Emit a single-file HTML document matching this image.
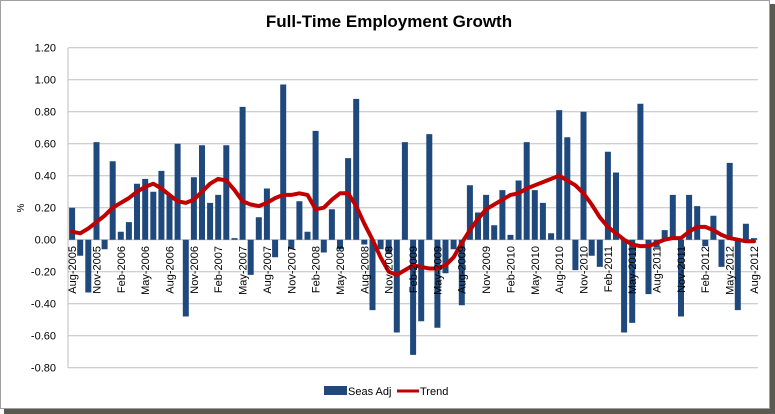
<!DOCTYPE html>
<html><head><meta charset="utf-8"><style>
html,body{margin:0;padding:0;background:#fff;}
svg{display:block;font-family:"Liberation Sans",sans-serif;}
</style></head><body>
<svg width="775" height="414" viewBox="0 0 775 414" xmlns="http://www.w3.org/2000/svg">
<rect x="770" y="4" width="5" height="410" fill="#5a5a50"/>
<rect x="4" y="409" width="771" height="5" fill="#5a5a50"/>
<rect x="0.5" y="0.5" width="769" height="408" fill="#fff" stroke="#a0a0a0"/>
<text x="389" y="27" font-size="17" font-weight="bold" text-anchor="middle" fill="#000">Full-Time Employment Growth</text>
<g stroke="#bfbfbf" stroke-width="1">
<line x1="68" x2="758" y1="47.7" y2="47.7"/>
<line x1="68" x2="758" y1="79.7" y2="79.7"/>
<line x1="68" x2="758" y1="111.7" y2="111.7"/>
<line x1="68" x2="758" y1="143.7" y2="143.7"/>
<line x1="68" x2="758" y1="175.7" y2="175.7"/>
<line x1="68" x2="758" y1="207.7" y2="207.7"/>
<line x1="68" x2="758" y1="239.7" y2="239.7"/>
<line x1="68" x2="758" y1="271.7" y2="271.7"/>
<line x1="68" x2="758" y1="303.7" y2="303.7"/>
<line x1="68" x2="758" y1="335.7" y2="335.7"/>
<line x1="68" x2="758" y1="367.7" y2="367.7"/>
<line x1="68" x2="68" y1="47.7" y2="367.7"/>
</g>
<g font-size="11" text-anchor="end" fill="#000">
<text x="56" y="51.5">1.20</text>
<text x="56" y="83.5">1.00</text>
<text x="56" y="115.5">0.80</text>
<text x="56" y="147.5">0.60</text>
<text x="56" y="179.5">0.40</text>
<text x="56" y="211.5">0.20</text>
<text x="56" y="243.5">0.00</text>
<text x="56" y="275.5">-0.20</text>
<text x="56" y="307.5">-0.40</text>
<text x="56" y="339.5">-0.60</text>
<text x="56" y="371.5">-0.80</text>
</g>
<text transform="translate(24,208) rotate(-90)" font-size="10" text-anchor="middle">%</text>
<g transform="translate(0,239.7) scale(1,-160)" fill="#1f497d">
<path d="M69.1 0h6V0.20H69.1Z M77.2 0h6V-0.10H77.2Z M85.3 0h6V-0.33H85.3Z M93.5 0h6V0.61H93.5Z M101.6 0h6V-0.06H101.6Z M109.7 0h6V0.49H109.7Z M117.8 0h6V0.05H117.8Z M125.9 0h6V0.11H125.9Z M134.0 0h6V0.35H134.0Z M142.2 0h6V0.38H142.2Z M150.3 0h6V0.30H150.3Z M158.4 0h6V0.43H158.4Z M166.5 0h6V0.28H166.5Z M174.6 0h6V0.60H174.6Z M182.8 0h6V-0.48H182.8Z M190.9 0h6V0.39H190.9Z M199.0 0h6V0.59H199.0Z M207.1 0h6V0.23H207.1Z M215.2 0h6V0.28H215.2Z M223.3 0h6V0.59H223.3Z M231.5 0h6V0.01H231.5Z M239.6 0h6V0.83H239.6Z M247.7 0h6V-0.22H247.7Z M255.8 0h6V0.14H255.8Z M263.9 0h6V0.32H263.9Z M272.1 0h6V-0.11H272.1Z M280.2 0h6V0.97H280.2Z M288.3 0h6V-0.06H288.3Z M296.4 0h6V0.24H296.4Z M304.5 0h6V0.05H304.5Z M312.6 0h6V0.68H312.6Z M320.8 0h6V-0.08H320.8Z M328.9 0h6V0.19H328.9Z M337.0 0h6V-0.06H337.0Z M345.1 0h6V0.51H345.1Z M353.2 0h6V0.88H353.2Z M361.3 0h6V-0.03H361.3Z M369.5 0h6V-0.44H369.5Z M377.6 0h6V-0.06H377.6Z M385.7 0h6V-0.09H385.7Z M393.8 0h6V-0.58H393.8Z M401.9 0h6V0.61H401.9Z M410.1 0h6V-0.72H410.1Z M418.2 0h6V-0.51H418.2Z M426.3 0h6V0.66H426.3Z M434.4 0h6V-0.55H434.4Z M442.5 0h6V-0.21H442.5Z M450.6 0h6V-0.06H450.6Z M458.8 0h6V-0.41H458.8Z M466.9 0h6V0.34H466.9Z M475.0 0h6V0.17H475.0Z M483.1 0h6V0.28H483.1Z M491.2 0h6V0.09H491.2Z M499.4 0h6V0.31H499.4Z M507.5 0h6V0.03H507.5Z M515.6 0h6V0.37H515.6Z M523.7 0h6V0.61H523.7Z M531.8 0h6V0.31H531.8Z M539.9 0h6V0.23H539.9Z M548.1 0h6V0.04H548.1Z M556.2 0h6V0.81H556.2Z M564.3 0h6V0.64H564.3Z M572.4 0h6V-0.19H572.4Z M580.5 0h6V0.80H580.5Z M588.7 0h6V-0.10H588.7Z M596.8 0h6V-0.17H596.8Z M604.9 0h6V0.55H604.9Z M613.0 0h6V0.42H613.0Z M621.1 0h6V-0.58H621.1Z M629.2 0h6V-0.52H629.2Z M637.4 0h6V0.85H637.4Z M645.5 0h6V-0.34H645.5Z M653.6 0h6V-0.05H653.6Z M661.7 0h6V0.06H661.7Z M669.8 0h6V0.28H669.8Z M678.0 0h6V-0.48H678.0Z M686.1 0h6V0.28H686.1Z M694.2 0h6V0.21H694.2Z M702.3 0h6V-0.04H702.3Z M710.4 0h6V0.15H710.4Z M718.5 0h6V-0.17H718.5Z M726.7 0h6V0.48H726.7Z M734.8 0h6V-0.44H734.8Z M742.9 0h6V0.10H742.9Z M751.0 0h6V0.01H751.0Z"/>
<polyline fill="none" stroke="#c00000" stroke-width="4" vector-effect="non-scaling-stroke" stroke-linejoin="round" stroke-linecap="round" points="72.1,0.05 80.2,0.04 88.3,0.07 96.5,0.11 104.6,0.15 112.7,0.20 120.8,0.23 128.9,0.26 137.0,0.30 145.2,0.33 153.3,0.35 161.4,0.32 169.5,0.28 177.6,0.24 185.8,0.23 193.9,0.25 202.0,0.30 210.1,0.35 218.2,0.38 226.3,0.37 234.5,0.31 242.6,0.24 250.7,0.22 258.8,0.21 266.9,0.23 275.1,0.26 283.2,0.28 291.3,0.28 299.4,0.29 307.5,0.28 315.6,0.19 323.8,0.20 331.9,0.25 340.0,0.29 348.1,0.29 356.2,0.21 364.3,0.10 372.5,0.0 380.6,-0.11 388.7,-0.20 396.8,-0.22 404.9,-0.19 413.1,-0.16 421.2,-0.17 429.3,-0.18 437.4,-0.18 445.5,-0.16 453.6,-0.11 461.8,-0.02 469.9,0.06 478.0,0.13 486.1,0.19 494.2,0.22 502.4,0.25 510.5,0.28 518.6,0.29 526.7,0.32 534.8,0.34 542.9,0.36 551.1,0.38 559.2,0.40 567.3,0.37 575.4,0.34 583.5,0.29 591.7,0.22 599.8,0.14 607.9,0.08 616.0,0.04 624.1,0.0 632.2,-0.03 640.4,-0.04 648.5,-0.04 656.6,-0.02 664.7,0.0 672.8,0.01 681.0,0.01 689.1,0.05 697.2,0.08 705.3,0.08 713.4,0.06 721.5,0.03 729.7,0.01 737.8,0.0 745.9,-0.01 754.0,-0.01"/>
</g>
<g font-size="11" text-anchor="end" fill="#000">
<text transform="translate(76,246) rotate(-90)">Aug-2005</text>
<text transform="translate(100.5,246) rotate(-90)">Nov-2005</text>
<text transform="translate(124.8,246) rotate(-90)">Feb-2006</text>
<text transform="translate(149.2,246) rotate(-90)">May-2006</text>
<text transform="translate(173.5,246) rotate(-90)">Aug-2006</text>
<text transform="translate(197.9,246) rotate(-90)">Nov-2006</text>
<text transform="translate(222.2,246) rotate(-90)">Feb-2007</text>
<text transform="translate(246.6,246) rotate(-90)">May-2007</text>
<text transform="translate(270.9,246) rotate(-90)">Aug-2007</text>
<text transform="translate(295.3,246) rotate(-90)">Nov-2007</text>
<text transform="translate(319.6,246) rotate(-90)">Feb-2008</text>
<text transform="translate(344.0,246) rotate(-90)">May-2008</text>
<text transform="translate(368.3,246) rotate(-90)">Aug-2008</text>
<text transform="translate(392.7,246) rotate(-90)">Nov-2008</text>
<text transform="translate(417.0,246) rotate(-90)">Feb-2009</text>
<text transform="translate(441.4,246) rotate(-90)">May-2009</text>
<text transform="translate(465.7,246) rotate(-90)">Aug-2009</text>
<text transform="translate(490.1,246) rotate(-90)">Nov-2009</text>
<text transform="translate(514.4,246) rotate(-90)">Feb-2010</text>
<text transform="translate(538.8,246) rotate(-90)">May-2010</text>
<text transform="translate(563.1,246) rotate(-90)">Aug-2010</text>
<text transform="translate(587.5,246) rotate(-90)">Nov-2010</text>
<text transform="translate(611.8,246) rotate(-90)">Feb-2011</text>
<text transform="translate(636.2,246) rotate(-90)">May-2011</text>
<text transform="translate(660.5,246) rotate(-90)">Aug-2011</text>
<text transform="translate(684.9,246) rotate(-90)">Nov-2011</text>
<text transform="translate(709.2,246) rotate(-90)">Feb-2012</text>
<text transform="translate(733.6,246) rotate(-90)">May-2012</text>
<text transform="translate(757.9,246) rotate(-90)">Aug-2012</text>
</g>
<rect x="324" y="386" width="23" height="9" fill="#1f497d"/>
<text x="348" y="395" font-size="11">Seas Adj</text>
<line x1="397" x2="419" y1="391" y2="391" stroke="#c00000" stroke-width="3"/>
<text x="420" y="395" font-size="11">Trend</text>
</svg>
</body></html>
